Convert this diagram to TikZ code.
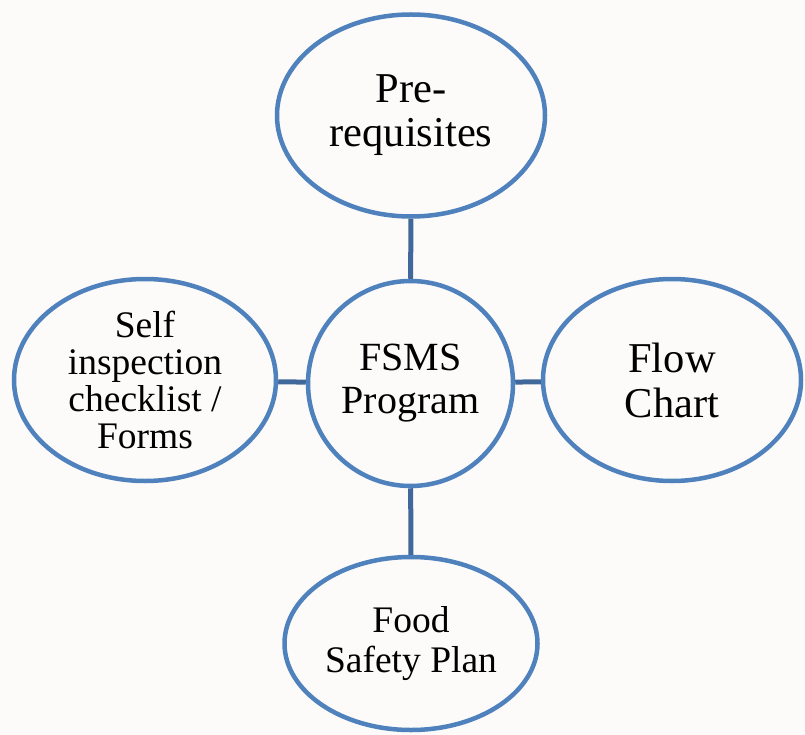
\documentclass[tikz,border=0pt]{standalone}
\usepackage{fontspec}
\setmainfont{Liberation Serif}
\usetikzlibrary{shapes.geometric}

\definecolor{ringblue}{HTML}{4F81BD}
\definecolor{linkblue}{HTML}{41689A}
\definecolor{paper}{HTML}{FCFBFA}

\tikzstyle{bubble} = [ellipse, draw=ringblue, line width=4.5pt, fill=paper, align=center, inner sep=0pt]
\tikzstyle{link} = [draw=linkblue, line width=5pt]

\begin{document}
\begin{tikzpicture}[x=1pt,y=-1pt]
            %
            % Page area and background
            \fill [paper] (0,0) rectangle (805,735);
            \useasboundingbox (0,0) rectangle (805,735);
            %
            % We start by placing the bubbles
            \node [bubble, minimum width=205pt, minimum height=205pt,
                   font=\fontsize{40}{43}\selectfont] (fsms) at (410.5,383.5) {FSMS\\Program};
            \node [bubble, minimum width=268pt, minimum height=202pt,
                   font=\fontsize{42.5}{44}\selectfont] (prereq) at (411,115.5) {Pre-\\requisites};
            \node [bubble, minimum width=258pt, minimum height=202pt,
                   font=\fontsize{42.5}{45}\selectfont] (flow) at (672,380) {Flow\\Chart};
            \node [bubble, minimum width=262pt, minimum height=202pt,
                   font=\fontsize{37.5}{37}\selectfont] (self) at (145,380) {Self\\inspection\\checklist /\\Forms};
            \node [bubble, minimum width=253pt, minimum height=173pt,
                   font=\fontsize{37.5}{40}\selectfont] (plan) at (411,643.5) {Food\\Safety Plan};
            %
            % Once the bubbles are placed, connecting them is easy.
            \draw [link] (prereq) -- (fsms);
            \draw [link] (fsms) -- (plan);
            \draw [link] (self) -- (fsms);
            \draw [link] (fsms) -- (flow);
            %
        \end{tikzpicture}
\end{document}
